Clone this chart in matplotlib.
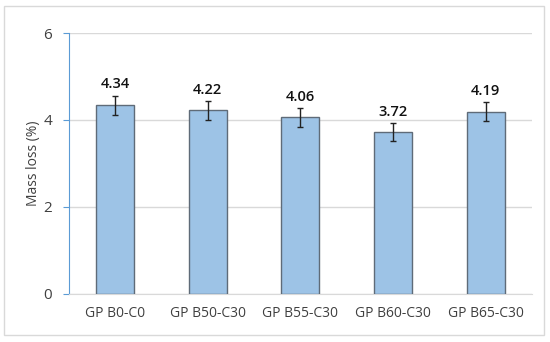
import matplotlib
matplotlib.use("Agg")
import matplotlib.pyplot as plt
from matplotlib.patches import Rectangle

# data
categories = ["GP B0-C0", "GP B50-C30", "GP B55-C30", "GP B60-C30", "GP B65-C30"]
mass_loss = [4.34, 4.22, 4.06, 3.72, 4.19]
errors = [0.22, 0.22, 0.21, 0.20, 0.22]

plt.rcParams['font.family'] = ['Open Sans', 'DejaVu Sans']

fig = plt.figure(figsize=(5.5, 3.42), dpi=100)
ax = fig.add_axes([0.1255, 0.1404, 0.8415, 0.7631])

# outer chart border
fig.patches.append(Rectangle((4/550, 1-335/342), 540/550, 329/342, transform=fig.transFigure,
                             fill=False, edgecolor='#d9d9d9', linewidth=1))

x = range(len(categories))
ax.bar(x, mass_loss, width=0.41, color='#9dc3e6', edgecolor='#5f6b78', linewidth=1.0, zorder=3,
       yerr=errors, error_kw=dict(ecolor='#222222', elinewidth=1, capsize=2.5, capthick=1))

for i, v in enumerate(mass_loss):
    ax.text(i, v + errors[i] + 0.1, f"{v:.2f}", ha='center', va='bottom',
            fontsize=10.5, fontweight='semibold', color='#111111')

ax.set_xlim(-0.5, len(categories) - 0.5)
ax.set_ylim(0, 6)
ax.set_yticks([0, 2, 4, 6])
ax.set_xticks(list(x))
ax.set_xticklabels(categories)
ax.grid(axis='y', color='#d9d9d9', linewidth=1, zorder=0)

for s in ['top', 'right']:
    ax.spines[s].set_visible(False)
ax.spines['bottom'].set_color('#d9d9d9')
ax.spines['left'].set_color('#5b9bd5')
ax.tick_params(axis='y', color='#5b9bd5', length=4, labelsize=11, labelcolor='#404040', pad=8)
ax.tick_params(axis='x', length=0, labelsize=10, labelcolor='#404040', pad=9)

ax.set_ylabel('Mass loss (%)', fontsize=10, color='#404040', labelpad=2)

fig.savefig('out.png', dpi=100)
